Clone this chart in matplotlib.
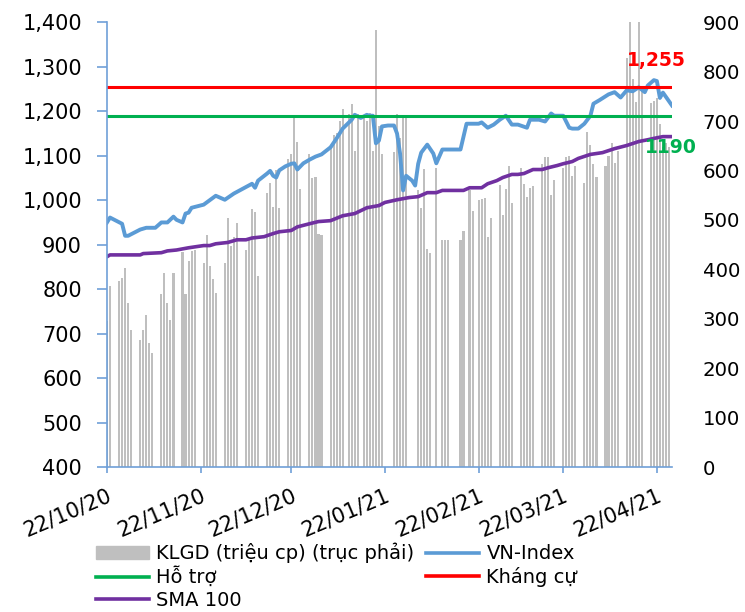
import datetime as dt
import matplotlib
matplotlib.use("Agg")
import matplotlib.pyplot as plt
import matplotlib.dates as mdates
from matplotlib.patches import Patch
from matplotlib.lines import Line2D

start = dt.date(2020, 10, 22)

# volume (trieu cp, right axis): day offset from start -> value
vol_day = [0, 1, 4, 5, 6, 7, 8, 11, 12, 13, 14, 15, 18, 19, 20, 21, 22, 25, 26, 27, 28, 29,
           32, 33, 34, 35, 36, 39, 40, 41, 42, 43, 46, 47, 48, 49, 50, 53, 54, 55, 56, 57,
           60, 61, 62, 63, 64, 67, 68, 69, 70, 71, 74, 75, 76, 77, 78, 80, 81, 82, 83, 85,
           86, 87, 88, 89, 90, 91, 95, 96, 97, 98, 99, 103, 104, 105, 106, 107, 109, 111,
           112, 113, 117, 118, 120, 121, 123, 124, 125, 126, 127, 130, 131, 132, 133, 134,
           137, 138, 139, 140, 141, 144, 145, 146, 147, 148, 151, 152, 153, 154, 155, 158,
           159, 160, 161, 162, 165, 166, 167, 168, 169, 172, 173, 174, 175, 176, 177, 180,
           181, 182, 183, 184, 185, 186]
vol = [296, 367, 377, 383, 403, 332, 278, 257, 278, 308, 251, 231, 351, 393, 332, 298, 393,
       436, 351, 416, 438, 440, 413, 470, 407, 381, 353, 413, 503, 448, 466, 493, 440, 464,
       523, 517, 387, 555, 575, 527, 602, 525, 624, 634, 707, 657, 563, 634, 584, 586, 472,
       470, 651, 671, 677, 701, 724, 715, 735, 640, 715, 713, 700, 716, 640, 884, 690, 634,
       637, 715, 665, 708, 708, 560, 525, 604, 442, 434, 606, 460, 460, 460, 460, 478, 560,
       519, 541, 543, 545, 466, 504, 571, 510, 563, 610, 535, 606, 573, 546, 565, 569, 614,
       627, 627, 551, 580, 606, 627, 630, 590, 610, 574, 679, 651, 614, 586, 610, 630, 655,
       616, 639, 827, 905, 786, 738, 905, 762, 736, 740, 746, 695, 648, 655, 648]

# VN-Index (left axis)
vni_day = [0, 1, 5, 6, 7, 11, 13, 16, 18, 20, 22, 23, 25, 26, 27, 28, 32, 33, 36, 39, 42, 45,
           48, 49, 50, 53, 54, 55, 56, 57, 59, 61, 62, 63, 65, 67, 69, 71, 74, 76, 78, 81, 82,
           84, 86, 87, 88, 89, 90, 91, 93, 95, 96, 97, 98, 99, 101, 102, 103, 104, 106, 108,
           109, 111, 117, 119, 123, 124, 126, 128, 130, 132, 134, 136, 139, 140, 143, 145,
           147, 148, 151, 153, 154, 156, 158, 160, 161, 163, 166, 168, 170, 172, 174, 176,
           178, 179, 181, 182, 183, 184, 187]
vni = [950, 961, 947, 920, 920, 934, 938, 938, 950, 950, 963, 956, 950, 970, 972, 983, 990,
       995, 1010, 1001, 1015, 1026, 1037, 1028, 1044, 1060, 1066, 1055, 1051, 1067, 1076,
       1082, 1083, 1069, 1083, 1091, 1098, 1103, 1119, 1139, 1161, 1181, 1192, 1185, 1192,
       1190, 1190, 1128, 1134, 1166, 1168, 1168, 1150, 1105, 1022, 1055, 1044, 1033, 1082,
       1107, 1125, 1105, 1083, 1114, 1114, 1172, 1172, 1175, 1163, 1170, 1181, 1190, 1170,
       1170, 1163, 1181, 1181, 1177, 1195, 1190, 1190, 1163, 1161, 1161, 1172, 1190, 1217,
       1225, 1238, 1243, 1231, 1247, 1245, 1254, 1243, 1258, 1270, 1268, 1230, 1242, 1213]

# SMA 100 (left axis)
sma_day = [0, 1, 11, 12, 18, 20, 23, 27, 32, 34, 36, 40, 43, 46, 48, 52, 55, 57, 61, 63, 67,
           70, 74, 78, 82, 86, 90, 92, 96, 100, 103, 106, 109, 111, 118, 120, 124, 126, 129,
           131, 134, 136, 138, 141, 144, 146, 149, 151, 154, 156, 160, 164, 168, 172, 176,
           179, 181, 184, 187]
sma = [873, 877, 877, 880, 882, 886, 888, 893, 898, 898, 902, 905, 911, 911, 915, 918, 925,
       929, 932, 940, 947, 952, 954, 965, 970, 983, 988, 995, 1001, 1006, 1008, 1017, 1017,
       1022, 1022, 1028, 1028, 1037, 1044, 1051, 1058, 1058, 1060, 1069, 1069, 1073, 1078,
       1082, 1087, 1094, 1103, 1107, 1116, 1123, 1132, 1136, 1139, 1143, 1143]

support = 1190
resistance = 1255
tick_dates = ["2020-10-22", "2020-11-22", "2020-12-22", "2021-01-22",
              "2021-02-22", "2021-03-22", "2021-04-22"]


def to_dates(days):
    return [start + dt.timedelta(days=d) for d in days]


axis_col = "#6FA0D8"
fs = 15

fig = plt.figure(figsize=(7.45, 6.12), dpi=100)
ax = fig.add_axes([0.1436, 0.2369, 0.7584, 0.7266])
ax2 = ax.twinx()

ax2.bar(to_dates(vol_day), vol, width=0.7, color="#BFBFBF", linewidth=0)
ax2.set_ylim(0, 900)
ax2.set_yticks(range(0, 901, 100))
ax2.tick_params(axis="y", length=0, pad=22, labelsize=14.2)

ax.set_zorder(ax2.get_zorder() + 1)
ax.patch.set_visible(False)

ax.plot(to_dates(vni_day), vni, color="#5B9BD5", lw=2.8, solid_joinstyle="round")
ax.plot(to_dates(sma_day), sma, color="#7030A0", lw=2.6)
x0 = start - dt.timedelta(days=0.3)
x1 = start + dt.timedelta(days=187.2)
ax.plot([x0, x1], [resistance, resistance], color="#FF0000", lw=2.2)
ax.plot([x0, x1], [support, support], color="#00B050", lw=2.2)

ax.text(start + dt.timedelta(days=172.5), 1315, "1,255", color="#FF0000",
        fontsize=13.5, fontweight="bold", ha="left", va="center")
ax.text(start + dt.timedelta(days=178), 1118, "1190", color="#00B050",
        fontsize=13.5, fontweight="bold", ha="left", va="center")

ax.set_ylim(400, 1400)
ax.set_yticks(range(400, 1401, 100))
ax.yaxis.set_major_formatter(matplotlib.ticker.FuncFormatter(lambda v, p: f"{int(v):,}"))
ax.set_xlim(x0, start + dt.timedelta(days=187.7))
ax.set_xticks([dt.date.fromisoformat(s) for s in tick_dates])
ax.xaxis.set_major_formatter(mdates.DateFormatter("%d/%m/%y"))

for a in (ax, ax2):
    for s in ("top", "right"):
        a.spines[s].set_visible(False)
ax2.spines["left"].set_visible(False)
ax2.spines["bottom"].set_visible(False)
ax.spines["left"].set_color(axis_col)
ax.spines["bottom"].set_color(axis_col)
ax.spines["left"].set_linewidth(1.2)
ax.spines["bottom"].set_linewidth(1.2)

ax.tick_params(axis="y", length=7, width=1.2, color=axis_col, pad=11, labelsize=fs)
ax.tick_params(axis="x", length=4, width=1.2, color=axis_col, pad=9, labelsize=fs)
for lab in ax.get_xticklabels():
    lab.set_rotation(23)
    lab.set_ha("right")
    lab.set_va("top")
    lab.set_rotation_mode("anchor")

handles = [
    Patch(color="#BFBFBF"),
    Line2D([], [], color="#00B050", lw=2.6),
    Line2D([], [], color="#7030A0", lw=2.6),
    Line2D([], [], color="#5B9BD5", lw=2.6),
    Line2D([], [], color="#FF0000", lw=2.6),
]
labels = ["KLGD (triệu cp) (trục phải)", "Hỗ trợ", "SMA 100", "VN-Index", "Kháng cự"]
fig.legend(handles, labels, loc="upper left", bbox_to_anchor=(0.129, 0.113), ncol=2,
           frameon=False, fontsize=14, handlelength=2.7, handletextpad=0.4,
           columnspacing=0.6, labelspacing=0.17, borderpad=0, borderaxespad=0)

fig.savefig("out.png", dpi=100)
